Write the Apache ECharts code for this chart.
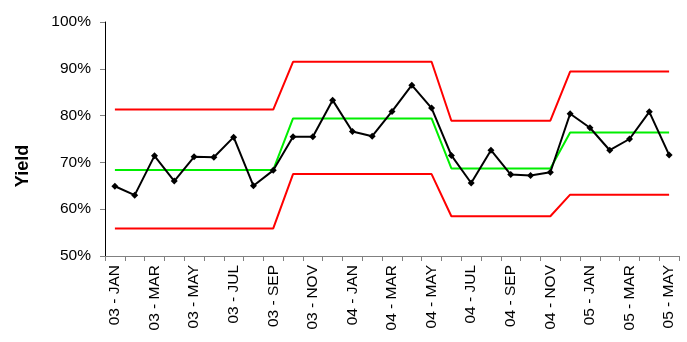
<!DOCTYPE html>
<html><head><meta charset="utf-8">
<script src="https://cdn.jsdelivr.net/npm/echarts@6/dist/echarts.min.js"></script>
<style>html,body{margin:0;padding:0;background:#fff}#c{width:687px;height:342px}</style>
</head><body><div id="c"></div>
<script>
const categories = ["03 - JAN","03 - FEB","03 - MAR","03 - APR","03 - MAY","03 - JUN","03 - JUL","03 - AUG","03 - SEP","03 - OCT","03 - NOV","03 - DEC",
"04 - JAN","04 - FEB","04 - MAR","04 - APR","04 - MAY","04 - JUN","04 - JUL","04 - AUG","04 - SEP","04 - OCT","04 - NOV","04 - DEC",
"05 - JAN","05 - FEB","05 - MAR","05 - APR","05 - MAY"];
const yieldValues = [64.9,63.0,71.4,66.0,71.2,71.1,75.4,65.0,68.3,75.5,75.5,83.3,
76.6,75.6,80.9,86.5,81.6,71.5,65.6,72.6,67.4,67.2,67.9,80.4,
77.4,72.6,75.0,80.8,71.6];
const centerLine = [68.4,68.4,68.4,68.4,68.4,68.4,68.4,68.4,68.4,79.4,79.4,79.4,
79.4,79.4,79.4,79.4,79.4,68.7,68.7,68.7,68.7,68.7,68.7,76.4,
76.4,76.4,76.4,76.4,76.4];
const upperLimit = [81.3,81.3,81.3,81.3,81.3,81.3,81.3,81.3,81.3,91.5,91.5,91.5,
91.5,91.5,91.5,91.5,91.5,78.9,78.9,78.9,78.9,78.9,78.9,89.4,
89.4,89.4,89.4,89.4,89.4];
const lowerLimit = [55.9,55.9,55.9,55.9,55.9,55.9,55.9,55.9,55.9,67.5,67.5,67.5,
67.5,67.5,67.5,67.5,67.5,58.5,58.5,58.5,58.5,58.5,58.5,63.1,
63.1,63.1,63.1,63.1,63.1];
const yTicks = {min:50, max:100, interval:10};
const yTitle = 'Yield';

const chart = echarts.init(document.getElementById('c'));
const font = 'Liberation Sans, Arial, sans-serif';
chart.setOption({
  animation:false,
  grid:{left:105, right:8, top:22, bottom:86},
  graphic:[{type:'text', x:23, y:166, rotation:Math.PI/2,
    style:{text:yTitle, font:'bold 18px Liberation Sans, Arial, sans-serif', fill:'#000', align:'center', verticalAlign:'middle'}}],
  xAxis:{type:'category', data:categories, boundaryGap:true,
    axisLine:{lineStyle:{color:'#808080', width:1}},
    axisTick:{show:true, interval:0, length:5, lineStyle:{color:'#808080'}},
    axisLabel:{interval:1, rotate:90, color:'#000', fontFamily:font, fontSize:15.5, margin:9}
  },
  yAxis:{type:'value', min:yTicks.min, max:yTicks.max, interval:yTicks.interval,
    axisLine:{show:true, lineStyle:{color:'#000', width:1}},
    axisTick:{show:true, length:5, lineStyle:{color:'#808080'}},
    splitLine:{show:false},
    axisLabel:{formatter:'{value}%', color:'#000', fontFamily:font, fontSize:15.5, margin:14}
  },
  series:[
    {type:'line', data:upperLimit, symbol:'none', lineStyle:{color:'#ff0000', width:2}, z:2},
    {type:'line', data:lowerLimit, symbol:'none', lineStyle:{color:'#ff0000', width:2}, z:2},
    {type:'line', data:centerLine, symbol:'none', lineStyle:{color:'#00ee00', width:2}, z:2},
    {type:'line', data:yieldValues, symbol:'diamond', symbolSize:7, itemStyle:{color:'#000'}, lineStyle:{color:'#000', width:2}, z:3}
  ]
});
</script></body></html>
